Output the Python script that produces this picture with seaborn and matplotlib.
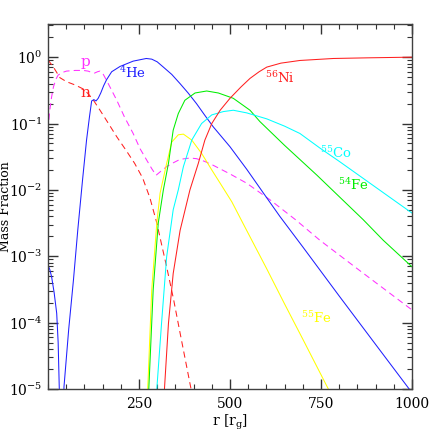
import numpy as np
import pandas as pd
import matplotlib
matplotlib.use('Agg')
import matplotlib.pyplot as plt
import seaborn as sns
from matplotlib.ticker import MultipleLocator, FixedLocator, LogLocator, LogFormatterMathtext, NullFormatter

# radius [r_g] and log10(mass fraction)
r_n = [0, 15, 33, 51, 75, 97, 112, 125, 143, 165, 189, 214, 238, 260, 280, 299, 312, 326, 345, 363, 378, 393]
lx_n = [-0.04, -0.15, -0.31, -0.37, -0.42, -0.48, -0.56, -0.65, -0.80, -0.99, -1.20, -1.40, -1.60, -1.82,
        -2.12, -2.50, -2.82, -3.16, -3.65, -4.16, -4.58, -5.0]

r_p = [0, 5, 10, 15, 22, 28, 40, 51, 75, 97, 110, 120, 128, 136, 143, 152, 161, 175, 189, 210, 234, 253,
       271, 285, 297, 310, 326, 345, 363, 390, 408, 430, 454, 500, 546, 610, 680, 747, 850, 1000]
lx_p = [-1.10, -0.80, -0.60, -0.45, -0.33, -0.27, -0.23, -0.21, -0.20, -0.20, -0.21, -0.23, -0.24, -0.22,
        -0.21, -0.26, -0.35, -0.50, -0.65, -0.90, -1.15, -1.38, -1.55, -1.68, -1.78, -1.72, -1.65, -1.59,
        -1.54, -1.52, -1.53, -1.57, -1.63, -1.76, -1.90, -2.15, -2.45, -2.76, -3.19, -3.81]

r_he4 = [0, 1, 5, 10, 17, 24, 28, 31, 37, 44, 57, 70, 82, 95, 106, 114, 120, 126, 132, 138, 145, 153, 161,
         175, 198, 234, 270, 285, 300, 317, 340, 363, 385, 408, 430, 454, 500, 546, 592, 637, 700, 800, 900, 992]
lx_he4 = [-7, -3.15, -3.20, -3.31, -3.55, -3.86, -4.30, -4.97, -7, -4.97, -4.10, -3.36, -2.60, -1.85, -1.25,
          -0.90, -0.66, -0.64, -0.66, -0.62, -0.54, -0.43, -0.34, -0.22, -0.14, -0.06, -0.02, -0.03, -0.07,
          -0.15, -0.26, -0.40, -0.54, -0.70, -0.87, -1.05, -1.35, -1.69, -2.05, -2.40, -2.86, -3.60, -4.33, -5.0]

r_fe55 = [274, 285, 299, 308, 312, 326, 340, 358, 372, 395, 422, 450, 473, 505, 540, 600, 650, 700, 770]
lx_fe55 = [-5.0, -3.51, -2.50, -2.05, -1.95, -1.60, -1.28, -1.17, -1.16, -1.25, -1.45, -1.70, -1.90, -2.18,
           -2.55, -3.18, -3.72, -4.25, -5.0]

r_fe54 = [277, 289, 303, 317, 331, 344, 358, 376, 404, 436, 468, 509, 555, 582, 650, 739, 811, 866, 921, 1000]
lx_fe54 = [-5.0, -3.51, -2.50, -2.0, -1.60, -1.10, -0.85, -0.65, -0.54, -0.51, -0.54, -0.62, -0.80, -0.97,
           -1.33, -1.78, -2.16, -2.45, -2.76, -3.16]

r_co55 = [299, 312, 326, 344, 358, 372, 395, 422, 450, 482, 509, 546, 601, 650, 692, 747, 800, 900, 1000]
lx_co55 = [-5.0, -4.01, -3.01, -2.30, -2.0, -1.65, -1.25, -1.0, -0.87, -0.82, -0.80, -0.84, -0.93, -1.04,
           -1.15, -1.37, -1.57, -1.96, -2.35]

r_ni56 = [320, 331, 344, 363, 390, 413, 431, 450, 473, 500, 530, 555, 580, 601, 640, 692, 784, 880, 1000]
lx_ni56 = [-5.0, -4.01, -3.26, -2.61, -2.0, -1.60, -1.25, -1.0, -0.80, -0.62, -0.45, -0.32, -0.22, -0.15,
           -0.09, -0.05, -0.02, -0.01, 0.0]

species = ['n', 'p', 'He4', 'Fe55', 'Fe54', 'Co55', 'Ni56']
radii = [r_n, r_p, r_he4, r_fe55, r_fe54, r_co55, r_ni56]
logx = [lx_n, lx_p, lx_he4, lx_fe55, lx_fe54, lx_co55, lx_ni56]

colors = {'n': '#ff2020', 'p': '#ff30ff', 'He4': '#2020ff', 'Fe55': '#ffff00',
          'Fe54': '#00ee00', 'Co55': '#00ffff', 'Ni56': '#ff2020'}
dashes = {'n': (6, 4), 'p': (6, 4), 'He4': '', 'Fe55': '', 'Fe54': '', 'Co55': '', 'Ni56': ''}

df = pd.concat([pd.DataFrame({'r': r, 'X': 10.0 ** np.array(lx), 'species': s})
                for s, r, lx in zip(species, radii, logx)], ignore_index=True)

plt.rcParams['font.family'] = ['DejaVu Serif']
plt.rcParams['mathtext.fontset'] = 'dejavuserif'

fig = plt.figure(figsize=(4.36, 4.36), dpi=100)
ax = fig.add_axes([0.110, 0.108, 0.835, 0.837])
ax.set_yscale('log')

sns.lineplot(data=df, x='r', y='X', hue='species', style='species', palette=colors, dashes=dashes,
             estimator=None, sort=False, legend=False, lw=0.75, ax=ax)

ax.set_xlim(0, 1000)
ax.set_ylim(1e-5, 10 ** 0.5)
ax.xaxis.set_major_locator(FixedLocator([250, 500, 750, 1000]))
ax.xaxis.set_minor_locator(MultipleLocator(50))
ax.yaxis.set_major_locator(LogLocator(base=10, numticks=10))
ax.yaxis.set_major_formatter(LogFormatterMathtext())
ax.yaxis.set_minor_locator(LogLocator(base=10, subs=np.arange(2, 10), numticks=20))
ax.yaxis.set_minor_formatter(NullFormatter())
for axis in (ax.xaxis, ax.yaxis):
    axis.set_tick_params(which='major', length=7, width=1.0, color='0.2', direction='in')
    axis.set_tick_params(which='minor', length=3.5, width=0.8, color='0.2', direction='in')
ax.tick_params(which='both', top=True, right=True, bottom=True, left=True, labelsize=10)
ax.xaxis.set_tick_params(pad=6)
ax.yaxis.set_tick_params(pad=4)
for sp in ax.spines.values():
    sp.set_color('0.25')
    sp.set_linewidth(1.0)

ax.set_xlabel(r'r [r$_{\rm g}$]', fontsize=10)
ax.set_ylabel('Mass Fraction', fontsize=9)
ax.xaxis.set_label_coords(0.5, -0.066)
ax.yaxis.set_label_coords(-0.100, 0.5)

# curve labels
ax.text(102, 0.84, 'p', color=colors['p'], fontsize=11, ha='center', va='center')
ax.text(102, 0.29, 'n', color=colors['n'], fontsize=11, ha='center', va='center')
ax.text(232, 0.57, r'$^{4}$He', color=colors['He4'], fontsize=9.5, ha='center', va='center')
ax.text(636, 0.48, r'$^{56}$Ni', color=colors['Ni56'], fontsize=9.5, ha='center', va='center')
ax.text(791, 0.036, r'$^{55}$Co', color=colors['Co55'], fontsize=9.5, ha='center', va='center')
ax.text(839, 0.0118, r'$^{54}$Fe', color=colors['Fe54'], fontsize=9.5, ha='center', va='center')
ax.text(738, 1.17e-4, r'$^{55}$Fe', color=colors['Fe55'], fontsize=9.5, ha='center', va='center')

fig.savefig('out.png', dpi=100)
